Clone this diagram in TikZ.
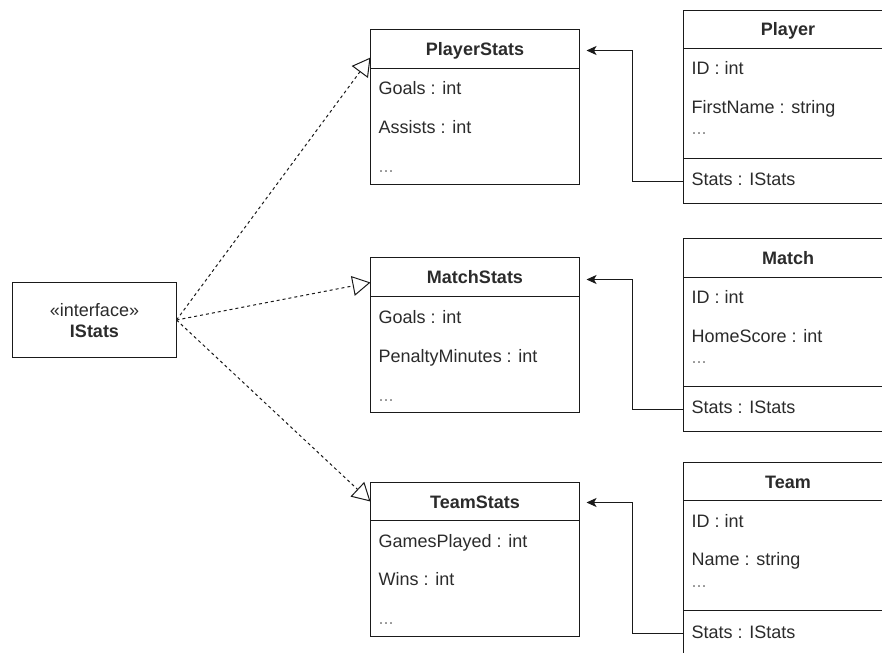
\documentclass[tikz,border=0pt]{standalone}
\usepackage{fontspec}
\setmainfont{Liberation Sans}
\usetikzlibrary{arrows.meta,calc}

\definecolor{ink}{HTML}{1A1A1A}
\definecolor{txt}{HTML}{2B2B2B}
\definecolor{faint}{HTML}{8A8A8A}

\begin{document}
\begin{tikzpicture}[x=1bp,y=-1bp,
  box/.style={draw=ink, line width=1bp, fill=white, rectangle, anchor=north west,
              inner sep=0pt, outer sep=0pt},
  attr/.style={anchor=base west, inner sep=0pt, text=txt, font=\fontsize{18bp}{21.6bp}\selectfont},
  more/.style={anchor=base west, inner sep=0pt, text=faint, font=\fontsize{18bp}{21.6bp}\selectfont},
  title/.style={anchor=base, inner sep=0pt, text=txt, font=\fontsize{18bp}{21.6bp}\selectfont\bfseries},
  stereo/.style={anchor=base, inner sep=0pt, text=txt, font=\fontsize{18bp}{21.6bp}\selectfont},
  realize/.style={draw=ink, line width=1bp, dash pattern=on 3bp off 3bp,
                  -{Triangle[open, length=18bp, width=20bp, line width=1bp]}},
  assoc/.style={draw=ink, line width=1bp, -{Stealth[length=10bp, width=9bp, inset=2.5bp]},
                shorten >=7bp}
]
\clip (0,0) rectangle (882,653);
% half-unit offset keeps the 1bp outlines on whole pixels
\begin{scope}[shift={(0.5,0.5)}]

% ---------- interface ----------
\node[box, minimum width=164bp, minimum height=75bp] (istats) at (12,282) {};
\node[stereo] (istatsStereo) at (94,315.5) {«interface»};
\node[title]  (istatsName)   at (94,337) {IStats};

% ---------- stats classes ----------
% PlayerStats
\node[box, minimum width=209bp, minimum height=39bp]  (psHead) at (370,29) {};
\node[box, minimum width=209bp, minimum height=116bp] (psBody) at (370,68) {};
\node[title] (psName) at (474.5,55) {PlayerStats};
\node[attr] (psA1) at (378,94.5)  {Goals : int};
\node[attr] (psA2) at (378,133.5) {Assists : int};
\node[more] (psA3) at (378,172.5) {...};

% MatchStats
\node[box, minimum width=209bp, minimum height=39bp]  (msHead) at (370,257) {};
\node[box, minimum width=209bp, minimum height=116bp] (msBody) at (370,296) {};
\node[title] (msName) at (474.5,283) {MatchStats};
\node[attr] (msA1) at (378,323) {Goals : int};
\node[attr] (msA2) at (378,361.5) {PenaltyMinutes : int};
\node[more] (msA3) at (378,400.5) {...};

% TeamStats
\node[box, minimum width=209bp, minimum height=38bp]  (tsHead) at (370,482) {};
\node[box, minimum width=209bp, minimum height=116bp] (tsBody) at (370,520) {};
\node[title] (tsName) at (474.5,507.5) {TeamStats};
\node[attr] (tsA1) at (378,546.5) {GamesPlayed : int};
\node[attr] (tsA2) at (378,585) {Wins : int};
\node[more] (tsA3) at (378,624) {...};

% ---------- entity classes ----------
% Player
\node[box, minimum width=209bp, minimum height=38bp]  (pHead) at (683,10) {};
\node[box, minimum width=209bp, minimum height=110bp] (pBody) at (683,48) {};
\node[box, minimum width=209bp, minimum height=45bp]  (pRow)  at (683,158) {};
\node[title] (pName) at (787.5,35.5) {Player};
\node[attr] (pA1) at (691,74.5)  {ID : int};
\node[attr] (pA2) at (691,113)   {FirstName : string};
\node[more] (pA3) at (691,134.5) {...};
\node[attr] (pA4) at (691,185)   {Stats : IStats};

% Match
\node[box, minimum width=209bp, minimum height=39bp]  (mHead) at (683,238) {};
\node[box, minimum width=209bp, minimum height=109bp] (mBody) at (683,277) {};
\node[box, minimum width=209bp, minimum height=45bp]  (mRow)  at (683,386) {};
\node[title] (mName) at (787.5,264) {Match};
\node[attr] (mA1) at (691,303)   {ID : int};
\node[attr] (mA2) at (691,341.5) {HomeScore : int};
\node[more] (mA3) at (691,363)   {...};
\node[attr] (mA4) at (691,413)   {Stats : IStats};

% Team
\node[box, minimum width=209bp, minimum height=38bp]  (tHead) at (683,462) {};
\node[box, minimum width=209bp, minimum height=110bp] (tBody) at (683,500) {};
\node[box, minimum width=209bp, minimum height=45bp]  (tRow)  at (683,610) {};
\node[title] (tName) at (787.5,487.5) {Team};
\node[attr] (tA1) at (691,526.5) {ID : int};
\node[attr] (tA2) at (691,565)   {Name : string};
\node[more] (tA3) at (691,586.5) {...};
\node[attr] (tA4) at (691,637.5) {Stats : IStats};

% ---------- realizations ----------
\draw[realize] (istats.east) -- ([yshift=-8.5bp]psHead.west);
\draw[realize] (istats.east) -- ([yshift=-5.5bp]msHead.west);
\draw[realize] (istats.east) -- (tsHead.west);

% ---------- associations ----------
\draw[assoc] (pRow.west) -- ++(-51,0) |- ([yshift=-1.5bp]psHead.east);
\draw[assoc] (mRow.west) -- ++(-51,0) |- ([yshift=-2.5bp]msHead.east);
\draw[assoc] (tRow.west) -- ++(-51,0) |- ([yshift=-1bp]tsHead.east);
\end{scope}
\end{tikzpicture}
\end{document}
